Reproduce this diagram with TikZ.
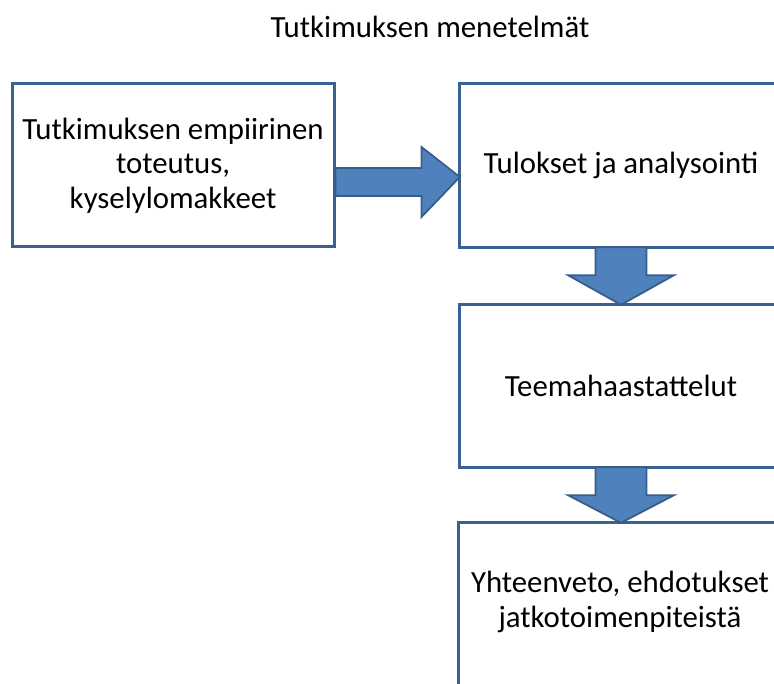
\documentclass[tikz,border=0pt]{standalone}
\usepackage{fontspec}
\setmainfont{Carlito}
\usetikzlibrary{calc}
\definecolor{boxline}{HTML}{3A6091}
\definecolor{arrowfill}{HTML}{4F81BD}
\definecolor{arrowline}{HTML}{385D8A}
\tikzset{
  labeltext/.style={font=\fontsize{30.8}{34.5}\selectfont},
  stagebox/.style={labeltext, inner sep=0pt, minimum width=322pt, align=center},
  frame/.style={draw=boxline, line width=3pt, line join=miter},
  blockarrow/.style={fill=arrowfill, draw=arrowline, line width=1.8pt, line join=miter},
}
\begin{document}
\begin{tikzpicture}[x=1pt, y=-1pt]
  \useasboundingbox (0,0) rectangle (774,684);
  \clip (0,0) rectangle (774,684);

  \node[labeltext] (title) at (430,27) {Tutkimuksen menetelmät};

  % stage boxes; the right-hand column runs past the right edge
  \node[stagebox, minimum height=163pt, draw=boxline, line width=3pt] (b1) at (173,165.5)
    {Tutkimuksen empiirinen\\toteutus,\\kyselylomakkeet};
  \node[stagebox, minimum height=163pt] (b2) at (621,165.5) {Tulokset ja analysointi};
  \node[stagebox, minimum height=162pt] (b3) at (621,386) {Teemahaastattelut};
  \node[stagebox, minimum height=158pt] (b4) at (620,602)
    {Yhteenveto, ehdotukset\\jatkotoimenpiteistä};

  \foreach \n in {b2,b3}
    \draw[frame] ($(\n.north east)+(40,0)$) -| (\n.south west) -- ($(\n.south east)+(40,0)$);
  \draw[frame] ($(b4.north east)+(40,0)$) -| ($(b4.south west)+(0,20)$);

  % horizontal block arrow from b1 to b2
  \draw[blockarrow]
    ($(b1.east)+(0,-8.5+11)$) -- ++(86,0) -- ++(0,-21) --
    ($(b2.west)+(0,11.5)$) --
    ($(b1.east)+(86,11.5+40)$) -- ++(0,-21) -- ($(b1.east)+(0,30.5)$) -- cycle;

  % downward block arrows between the stacked boxes
  \foreach \a/\b in {b2/b3, b3/b4} {
    \draw[blockarrow]
      ($(\a.south)+(-25.5,0)$) -- ++(0,28) -- ++(-27.5,0) --
      (\a.south |- \b.north) --
      ($(\a.south)+(53,28)$) -- ++(-27.5,0) -- ($(\a.south)+(25.5,0)$) -- cycle;
  }
\end{tikzpicture}
\end{document}
